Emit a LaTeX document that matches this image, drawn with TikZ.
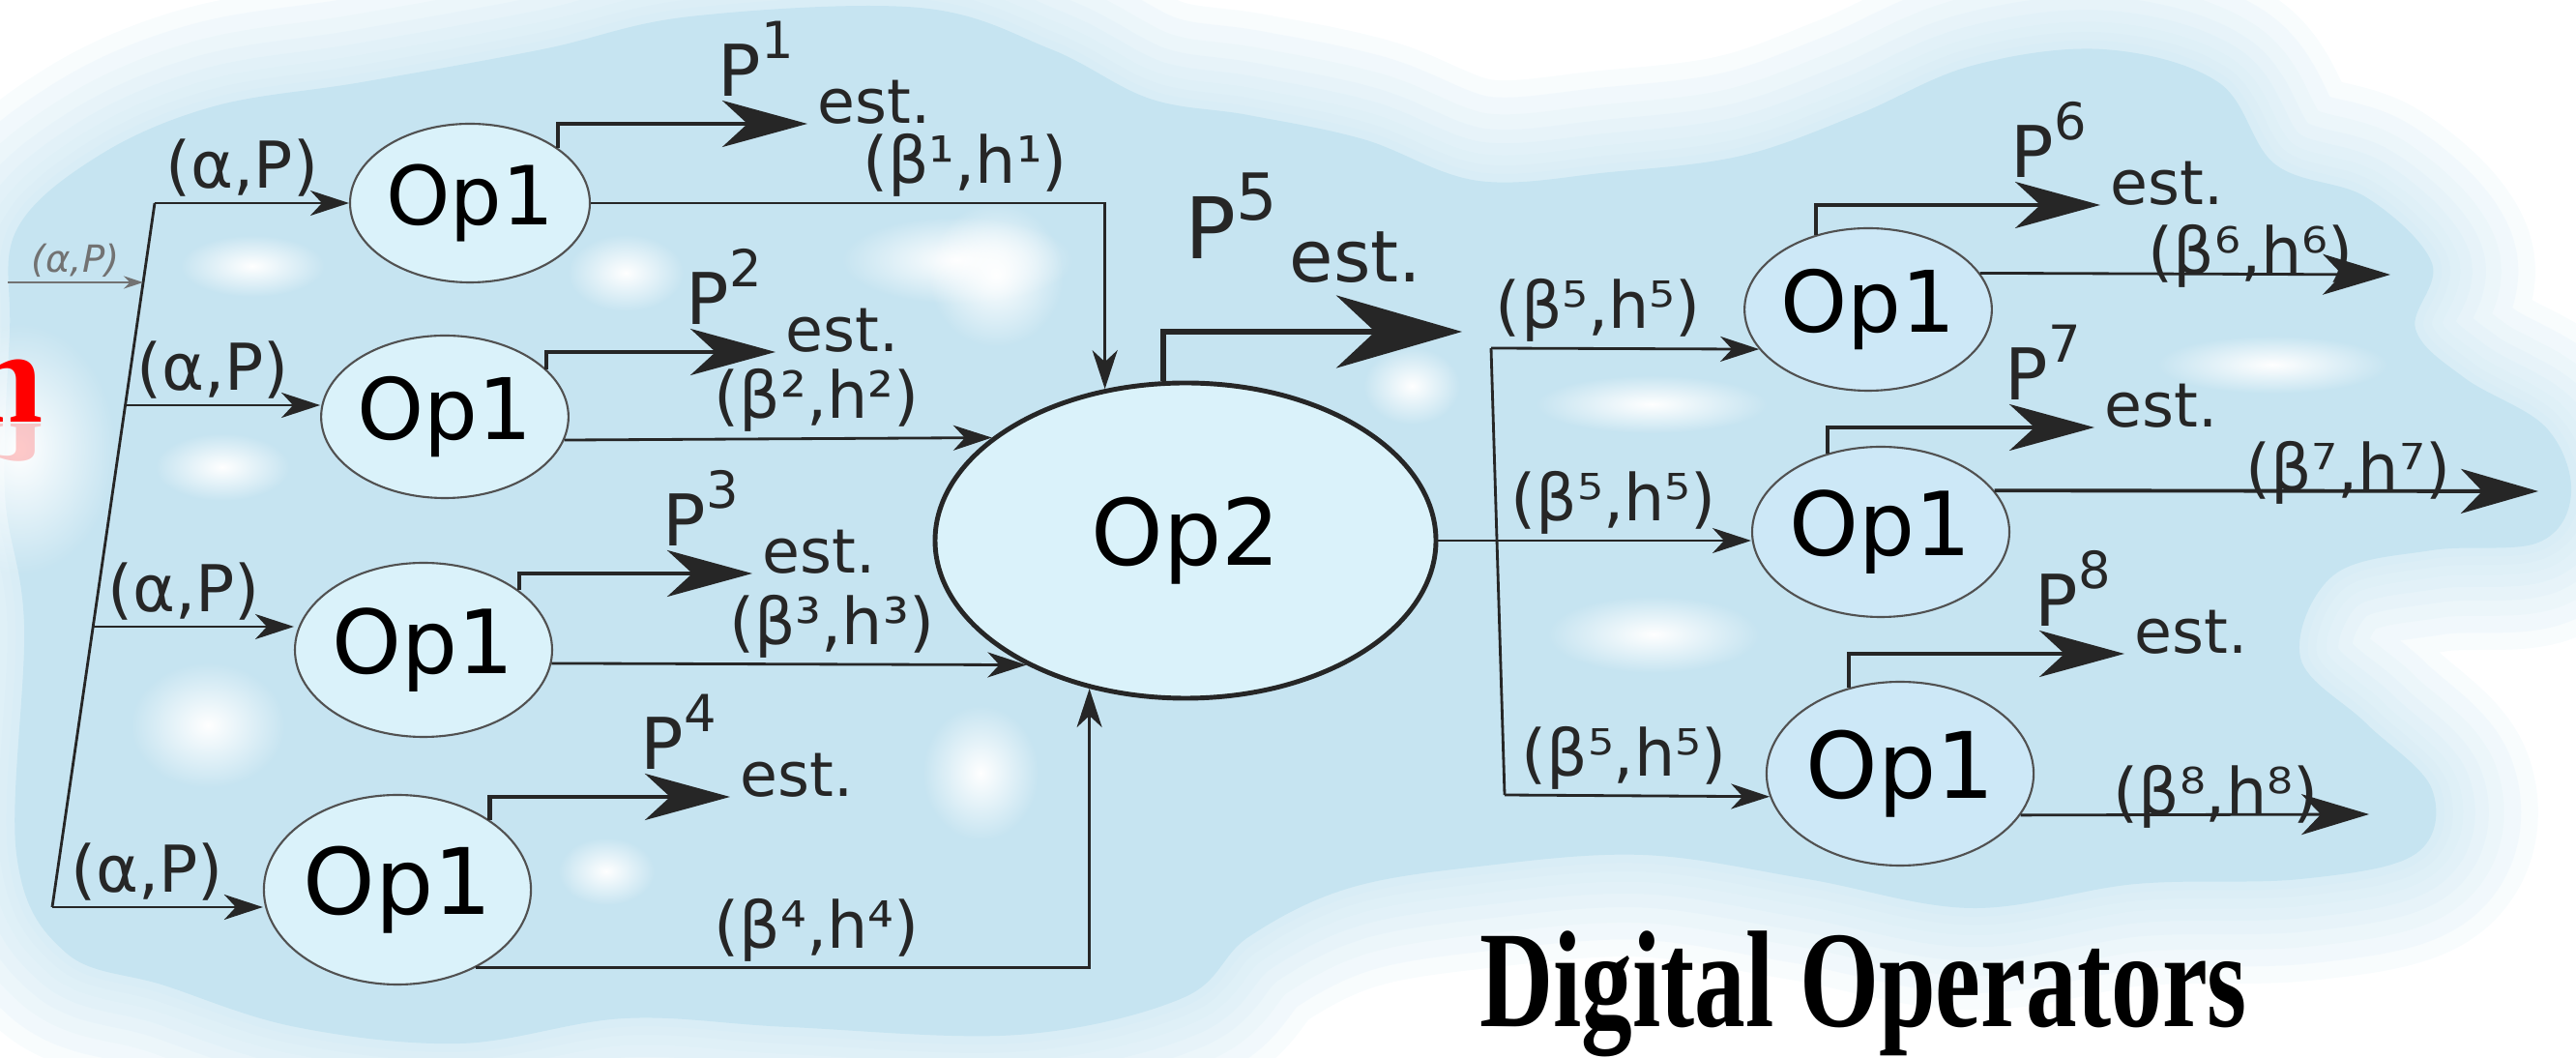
\documentclass[tikz,border=0pt]{standalone}
\usepackage{fontspec}
\setmainfont{DejaVu Sans}
\newfontfamily\titlefont{Liberation Serif}
\usepackage{tikz}
\usetikzlibrary{shapes.geometric, arrows.meta, positioning, fadings}
\definecolor{cloud}{HTML}{C6E4F1}
\definecolor{opfill}{HTML}{DAF2FA}
\definecolor{opfillb}{HTML}{CDE8F7}
\definecolor{ink}{HTML}{262626}
\tikzfading[name=softspot, inner color=transparent!0, outer color=transparent!100]
\newcommand{\Pk}[1]{P\raisebox{.54em}{\fontsize{15}{15}\selectfont#1}}

\begin{document}
\begin{tikzpicture}[
	wire/.style={draw=ink, line width=0.8pt},
	feed/.style={-{Stealth[length=4mm,width=2.6mm,inset=1.2mm]}},
	bout/.style={-{Stealth[length=7mm,width=4.2mm,inset=2mm]}},
	pout/.style={draw=ink, line width=1.2pt, -{Stealth[length=8.8mm,width=4.8mm,inset=2.6mm]}},
	pfive/.style={draw=ink, line width=1.9pt, -{Stealth[length=13mm,width=7.5mm,inset=4mm]}},
	opone/.style={ellipse, draw=ink!80, line width=0.6pt, fill=opfill, inner sep=0pt, font=\fontsize{25}{30}\selectfont},
	optwo/.style={ellipse, draw=ink, line width=1.4pt, fill=opfill, inner sep=0pt, font=\fontsize{27}{32}\selectfont},
	pair/.style={font=\fontsize{19}{23}\selectfont, text=ink, inner sep=1.5pt},
	plab/.style={font=\fontsize{21}{25}\selectfont, text=ink, inner sep=0pt, anchor=base west},
	est/.style={font=\fontsize{18}{22}\selectfont, text=ink, inner sep=2.8pt, anchor=base west},
	haze/.style={draw=cloud, line join=round, line width=#1, draw opacity=.13},
	spot/.style={fill=white, path fading=softspot}
]
	\useasboundingbox (0,0) rectangle (26.64,10.94);

	% Draw the cloud behind the diagram
	\path[fill=cloud,
		preaction={haze=60pt}, preaction={haze=50pt}, preaction={haze=40pt},
		preaction={haze=31pt}, preaction={haze=23pt}, preaction={haze=16pt},
		preaction={haze=10pt}, preaction={haze=5pt}]
		plot[smooth cycle, tension=.6] coordinates {(0.17,8.56) (1.02,9.33) (2.21,9.84) (3.74,10.09)
		(5.61,10.43) (7.14,10.77) (9.51,10.86) (10.87,10.43) (11.89,9.92) (12.91,9.75) (14.10,9.50)
		(15.29,9.07) (16.65,9.16) (18.01,9.33) (19.20,9.75) (20.39,10.26) (21.75,10.43) (22.94,10.09)
		(23.53,9.24) (24.47,8.90) (25.15,8.22) (24.98,7.54) (25.49,7.03) (26.33,6.52) (26.59,5.84)
		(26.25,5.33) (25.15,5.25) (24.13,4.99) (23.79,4.14) (24.47,3.46) (25.15,2.78) (24.98,2.11)
		(23.79,1.85) (22.09,1.80) (20.39,1.55) (18.69,1.85) (16.99,2.10) (15.29,1.98) (13.93,1.75)
		(12.91,1.25) (12.23,0.62) (10.53,0.24) (8.16,0.32) (6.46,0.41) (4.76,0.15) (3.06,0.32)
		(1.70,0.75) (0.68,1.09) (0.17,2.11) (0.25,4.48) (0.05,5.84) (0.10,7.50)};
	\fill[spot] (2.61,8.19) ellipse (0.75 and 0.32);
	\fill[spot] (6.47,8.12) ellipse (0.6 and 0.4);
	\fill[spot] (9.9,8.25) ellipse (1.2 and 0.45);
	\fill[spot] (10.3,8.1) ellipse (0.7 and 0.75);
	\fill[spot] (2.30,6.11) ellipse (0.7 and 0.35);
	\fill[spot] (2.15,3.44) ellipse (0.8 and 0.65);
	\fill[spot] (6.27,1.93) ellipse (0.5 and 0.35);
	\fill[spot] (10.14,2.95) ellipse (0.6 and 0.7);
	\fill[spot] (14.6,6.95) ellipse (0.5 and 0.4);
	\fill[spot] (17.08,6.76) ellipse (1.2 and 0.3);
	\fill[spot] (17.1,4.38) ellipse (1.1 and 0.4);
	\fill[spot] (23.5,7.17) ellipse (1.2 and 0.3);
	\fill[spot] (0.2,6.3) ellipse (1.0 and 1.3);

	% Cut off title letter on the left
	\node[anchor=base east, inner sep=0pt, font=\titlefont\bfseries\fontsize{39}{44}\selectfont, text=red!60, opacity=.35] (cutmirror) at (0.45,6.55) {\scalebox{1}[-0.6]{n}};
	\node[anchor=base east, inner sep=0pt, font=\titlefont\bfseries\fontsize{39}{44}\selectfont, text=red] (cut) at (0.45,6.57) {n};

	% Op1 blocks on the left
	\node[opone, minimum width=2.48cm, minimum height=1.64cm, font=\fontsize{24}{28}\selectfont] (l1) at (4.86,8.84) {Op1};
	\node[opone, minimum width=2.54cm, minimum height=1.68cm] (l2) at (4.60,6.63) {Op1};
	\node[opone, minimum width=2.64cm, minimum height=1.80cm, font=\fontsize{26}{30}\selectfont] (l3) at (4.38,4.22) {Op1};
	\node[opone, minimum width=2.72cm, minimum height=1.96cm, font=\fontsize{27}{32}\selectfont] (l4) at (4.11,1.74) {Op1};

	% Op2 in the middle
	\node[optwo, minimum width=5.18cm, minimum height=3.26cm] (mid) at (12.26,5.35) {Op2};

	% Op1 blocks on the right
	\node[opone, fill=opfillb, minimum width=2.50cm, minimum height=1.68cm] (r1) at (19.32,7.74) {Op1};
	\node[opone, fill=opfillb, minimum width=2.60cm, minimum height=1.76cm, font=\fontsize{26}{30}\selectfont] (r2) at (19.45,5.44) {Op1};
	\node[opone, fill=opfillb, minimum width=2.70cm, minimum height=1.90cm, font=\fontsize{27}{32}\selectfont] (r3) at (19.65,2.94) {Op1};

	% Input line and its branches
	\coordinate (src) at (0.08,8.02);
	\coordinate (in0) at (1.48,8.02);
	\coordinate (in1) at (1.60,8.84);
	\coordinate (in2) at (1.29,6.75);
	\coordinate (in3) at (0.97,4.46);
	\coordinate (in4) at (0.54,1.56);
	\draw[wire] (in1) -- (in4);
	\draw[wire, draw=ink!65, -{Stealth[length=2mm,width=1.3mm]}] (src) -- (in0)
		node[midway, above, inner sep=1pt, text=ink!65, font=\itshape\fontsize{11}{13}\selectfont] (tag) {(α,P)};
	\draw[wire, feed] (in1) -- (in1 -| l1.west) node[pair, pos=.45, above] (a1) {(α,P)};
	\draw[wire, feed] (in2) -- (in2 -| l2.west) node[pair, pos=.45, above] (a2) {(α,P)};
	\draw[wire, feed] (in3) -- (in3 -| l3.west) node[pair, pos=.45, above] (a3) {(α,P)};
	\draw[wire, feed] (in4) -- (in4 -| l4.west) node[pair, pos=.45, above] (a4) {(α,P)};

	% Estimates from the left Op1 blocks
	\node[est] (e1) at (8.35,9.66) {est.};
	\node[plab] (p1) at (7.42,9.94) {\Pk{1}};
	\draw[pout] (l1.32) |- (e1.base west);
	\node[est] (e2) at (8.02,7.30) {est.};
	\node[plab] (p2) at (7.09,7.58) {\Pk{2}};
	\draw[pout] (l2.25) |- (e2.base west);
	\node[est] (e3) at (7.78,5.01) {est.};
	\node[plab] (p3) at (6.85,5.29) {\Pk{3}};
	\draw[pout] (l3.32) |- (e3.base west);
	\node[est] (e4) at (7.55,2.70) {est.};
	\node[plab] (p4) at (6.62,2.98) {\Pk{4}};
	\draw[pout] (l4.37) |- (e4.base west);

	% Pairs going into Op2
	\draw[wire, feed] (l1.east) -| (mid.118) node[pair, pos=.364, above] (b1) {(β¹,h¹)};
	\draw[wire, feed] (l2.-11) -- (mid.152) node[pair, pos=.59, above] (b2) {(β²,h²)};
	\draw[wire, feed] (l3.-6) -- (mid.218) node[pair, pos=.59, above] (b3) {(β³,h³)};
	\draw[wire, feed] (l4.-45) -| (mid.237) node[pair, pos=.278, above] (b4) {(β⁴,h⁴)};

	% Estimate from Op2
	\coordinate (out5) at (15.12,7.51);
	\draw[pfive] (mid.98) |- (out5);
	\node[plab, font=\fontsize{25}{30}\selectfont] (p5) at (12.25,8.26) {P\raisebox{.46em}{\fontsize{19}{19}\selectfont 5}};
	\node[est, inner sep=0pt, font=\fontsize{21}{25}\selectfont] (e5) at (13.33,8.02) {est.};

	% Pairs from Op2 to the right Op1 blocks
	\coordinate (rt1) at (15.42,7.34);
	\coordinate (rt3) at (15.56,2.72);
	\draw[wire] (rt1) -- (rt3);
	\draw[wire, feed] (rt1) -- (r1.200) node[pair, pos=.4, above] (c1) {(β⁵,h⁵)};
	\draw[wire, feed] (mid.east) -- (mid.east -| r2.west) node[pair, pos=.56, above] (c2) {(β⁵,h⁵)};
	\draw[wire, feed] (rt3) -- (r3.190) node[pair, pos=.45, above] (c3) {(β⁵,h⁵)};

	% Estimates from the right Op1 blocks
	\node[est] (e6) at (21.72,8.82) {est.};
	\node[plab] (p6) at (20.79,9.10) {\Pk{6}};
	\draw[pout] (r1.125) |- (e6.base west);
	\node[est] (e7) at (21.66,6.52) {est.};
	\node[plab] (p7) at (20.73,6.80) {\Pk{7}};
	\draw[pout] (r2.124) |- (e7.base west);
	\node[est] (e8) at (21.97,4.18) {est.};
	\node[plab] (p8) at (21.04,4.46) {\Pk{8}};
	\draw[pout] (r3.121) |- (e8.base west);

	% Pairs leaving on the right
	\coordinate (out6) at (24.72,8.10);
	\coordinate (out7) at (26.25,5.86);
	\coordinate (out8) at (24.50,2.52);
	\draw[wire, bout] (r1.18) -- (out6) node[pair, pos=.66, anchor=base] (c6) {(β⁶,h⁶)};
	\draw[wire, line width=1.1pt, -{Stealth[length=8mm,width=4.6mm,inset=2.2mm]}] (r2.20) -- (out7) node[pair, pos=.65, anchor=base] (c7) {(β⁷,h⁷)};
	\draw[wire, bout] (r3.-19) -- (out8) node[pair, pos=.56, anchor=base] (c8) {(β⁸,h⁸)};

	% Title
	\node[anchor=base, font=\titlefont\bfseries\fontsize{30}{36}\selectfont] (title) at (19.27,0.32) {\scalebox{1}[1.35]{Digital Operators}};
\end{tikzpicture}
\end{document}
